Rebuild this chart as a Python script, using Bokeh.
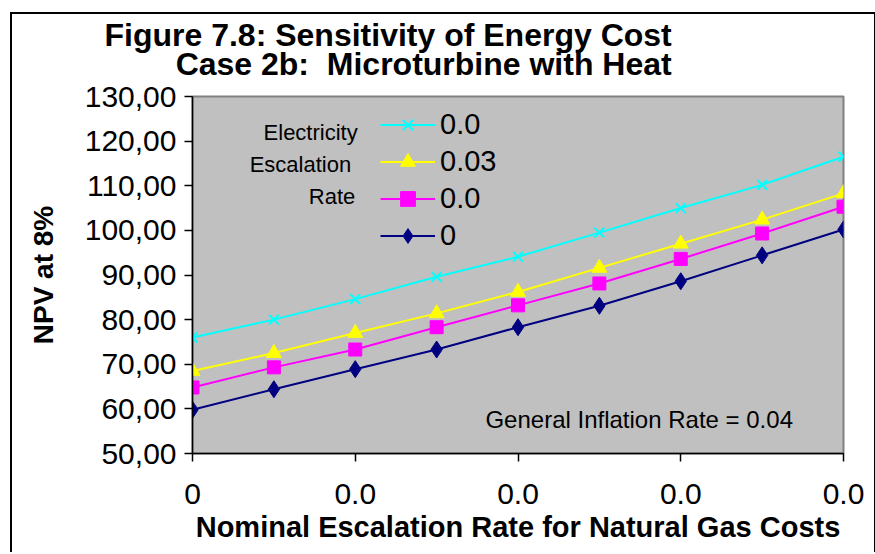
from bokeh.plotting import figure
from bokeh.models import FixedTicker, Legend, LegendItem, Label, Title
from bokeh.embed import file_html
from bokeh.resources import INLINE

# ---- data ----
x_index = [0, 1, 2, 3, 4, 5, 6, 7, 8]
x_tick_positions = [0, 2, 4, 6, 8]
x_tick_labels = ["0", "0.0", "0.0", "0.0", "0.0"]
y_ticks = [50, 60, 70, 80, 90, 100, 110, 120, 130]
y_tick_labels = ["50,00", "60,00", "70,00", "80,00", "90,00",
                 "100,00", "110,00", "120,00", "130,00"]
series_labels = ["0.0", "0.03", "0.0", "0"]
npv_cyan = [76.0, 80.0, 84.6, 89.6, 94.1, 99.5, 105.0, 110.2, 116.5]
npv_yellow = [68.5, 72.5, 77.0, 81.4, 86.2, 91.6, 97.0, 102.4, 108.3]
npv_magenta = [64.8, 69.3, 73.3, 78.3, 83.2, 88.1, 93.6, 99.3, 105.3]
npv_navy = [59.8, 64.4, 68.9, 73.3, 78.3, 83.1, 88.6, 94.4, 100.2]
legend_title_lines = ["Electricity", "Escalation", "Rate"]
note_text = "General Inflation Rate = 0.04"
title_lines = ["Figure 7.8: Sensitivity of Energy Cost",
               "\u00a0" * 8 + "Case 2b:\u00a0 Microturbine with Heat"]
x_title = "Nominal Escalation Rate for Natural Gas Costs"
y_title = "NPV at 8%"

FONT = "Liberation Sans"

p = figure(width=866, height=540, x_range=(0, 8), y_range=(50, 130),
           output_backend="svg", toolbar_location=None,
           min_border_left=180, min_border_right=35, min_border_top=82,
           min_border_bottom=101,
           background_fill_color="#C0C0C0", border_fill_color="white",
           outline_line_color="#808080", outline_line_width=2)
p.margin = (12, 0, 0, 10)
p.styles = {"border-top": "2px solid black", "border-left": "2px solid black",
            "border-right": "2px solid black"}

# small spacer between the title block and the plotting area
p.add_layout(Title(text="\u00a0", text_font_size="1px", standoff=11), "above")
p.add_layout(Title(text="\n".join(title_lines), align="left", offset=-88,
                   text_font=FONT, text_font_size="32px", text_font_style="bold",
                   text_color="black", text_line_height=0.81, standoff=0), "above")

p.xgrid.visible = False
p.ygrid.visible = False

for ax in (p.xaxis, p.yaxis):
    ax.axis_line_color = "black"
    ax.axis_line_width = 1.5
    ax.major_tick_line_color = "black"
    ax.major_tick_line_width = 1.5
    ax.major_tick_in = 0
    ax.major_tick_out = 8
    ax.minor_tick_line_color = None
    ax.major_label_text_font = FONT
    ax.major_label_text_font_size = "30px"
    ax.major_label_text_color = "black"
    ax.axis_label_text_font = FONT
    ax.axis_label_text_font_style = "bold"
    ax.axis_label_text_color = "black"

p.xaxis.ticker = FixedTicker(ticks=x_tick_positions)
p.xaxis.major_label_overrides = {k: v for k, v in zip(x_tick_positions, x_tick_labels)}
p.yaxis.ticker = FixedTicker(ticks=y_ticks)
p.yaxis.major_label_overrides = {k: v for k, v in zip(y_ticks, y_tick_labels)}
p.xaxis.major_label_standoff = 22
p.yaxis.major_label_standoff = 8
p.xaxis.axis_label = x_title
p.xaxis.axis_label_text_font_size = "29px"
p.xaxis.axis_label_standoff = 4
p.yaxis.axis_label = y_title
p.yaxis.axis_label_text_font_size = "28px"
p.yaxis.axis_label_standoff = 23

series = [npv_cyan, npv_yellow, npv_magenta, npv_navy]
colors = ["#00FFFF", "#FFFF00", "#FF00FF", "#000080"]
markers = ["x", "triangle", "square", "diamond"]
sizes = [14, 15, 13, 17]

items = []
for vals, c, mk, sz, lab in zip(series, colors, markers, sizes, series_labels):
    ln = p.line(x_index, vals, line_color=c, line_width=2)
    if mk == "x":
        sc = p.scatter(x_index, vals, marker=mk, size=sz, line_color=c, line_width=2)
    else:
        sc = p.scatter(x_index, vals, marker=mk, size=sz, fill_color=c, line_color=c,
                       line_width=1)
    items.append(LegendItem(label=lab, renderers=[ln, sc]))

legend = Legend(items=items, location=(188, 199), background_fill_alpha=0,
                border_line_color=None, padding=0, margin=0, spacing=0,
                glyph_width=55, glyph_height=37, label_height=37, label_standoff=5,
                label_text_font=FONT, label_text_font_size="29px",
                label_text_color="black")
p.add_layout(legend)

lt_x = [2.03, 1.95, 2.00]
lt_y = [121.9, 114.8, 107.6]
for txt, xx, yy in zip(legend_title_lines, lt_x, lt_y):
    p.add_layout(Label(x=xx, y=yy, text=txt, text_align="right",
                       text_baseline="middle", text_font=FONT,
                       text_font_size="22px", text_color="black"))

p.add_layout(Label(x=3.6, y=57.6, text=note_text, text_align="left",
                   text_baseline="middle", text_font=FONT,
                   text_font_size="24px", text_color="black"))

open("out.html", "w").write(file_html(p, INLINE))
